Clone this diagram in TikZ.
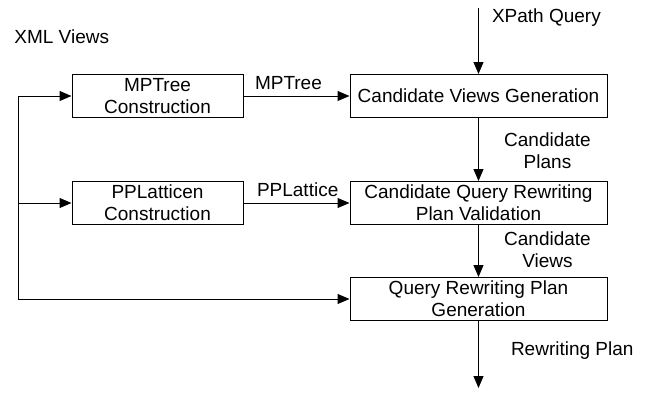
\documentclass[tikz,border=0pt]{standalone}
\usepackage{fontspec}
\setmainfont{Liberation Sans}
\usetikzlibrary{arrows.meta}

\tikzset{
  blk/.style={draw,line width=0.5pt,minimum height=21.5pt,inner sep=1pt,align=center,font=\fontsize{9.5}{11}\selectfont},
  lbl/.style={align=center,inner sep=0pt,font=\fontsize{9.5}{11}\selectfont},
  arr/.style={line width=0.5pt,-{Triangle[length=6pt,width=5pt]}}
}

\begin{document}
\begin{tikzpicture}[x=0.5pt,y=-0.5pt]
\useasboundingbox (0,0) rectangle (649,392);
% boxes
\node[blk,minimum width=85.5pt] (mpt) at (157.5,96) {MPTree\\Construction};
\node[blk,minimum width=85.5pt] (ppl) at (157.5,203) {PPLatticen\\Construction};
\node[blk,minimum width=128.5pt] (cvg) at (478.5,96) {Candidate Views Generation};
\node[blk,minimum width=128.5pt] (cqr) at (478.5,203) {Candidate Query Rewriting\\Plan Validation};
\node[blk,minimum width=128.5pt] (qrp) at (478.5,299) {Query Rewriting Plan\\Generation};
\node[lbl,anchor=west] (xml) at (14,37) {XML Views};
% free ends
\coordinate (top) at (478.5,8);
\coordinate (bot) at (478.5,388);
\coordinate (ltop) at (18,96);
\coordinate (lmid) at (18,203);
\coordinate (lbot) at (18,299);
% main flow
\draw[arr] (top) -- (cvg) node[lbl,anchor=west,pos=0.15,xshift=6.5pt] {XPath Query};
\draw[arr] (cvg) -- (cqr) node[lbl,midway,xshift=34.5pt,yshift=-0.5pt] {Candidate\\Plans};
\draw[arr] (cqr) -- (qrp) node[lbl,midway,xshift=34.5pt,yshift=0.5pt] {Candidate\\Views};
\draw[arr] (qrp) -- (bot) node[lbl,anchor=west,pos=0.4,xshift=16pt,yshift=-1.5pt] {Rewriting Plan};
% side inputs
\draw[arr] (mpt) -- (cvg) node[lbl,pos=0,anchor=south west,xshift=5.5pt,yshift=3pt] {MPTree};
\draw[arr] (ppl) -- (cqr) node[lbl,pos=0,anchor=south west,xshift=6.5pt,yshift=3pt] {PPLattice};
\draw[arr] (ltop) -- (mpt);
\draw[arr] (lmid) -- (ppl);
\draw[arr] (ltop) -- (lbot) -- (qrp);
\end{tikzpicture}
\end{document}
